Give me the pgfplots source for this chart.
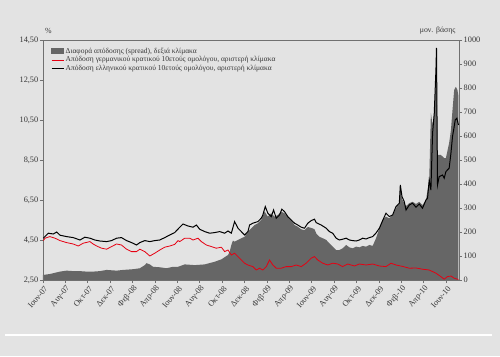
\documentclass[border=0pt]{standalone}
\usepackage{pgfplots}
\pgfplotsset{compat=1.18}
\usepackage{pgfplotstable}
\usepackage{fontspec}
\setmainfont{Liberation Serif}
\definecolor{bg}{RGB}{227,227,227}
\definecolor{spreadgray}{RGB}{102,102,102}
\definecolor{axgray}{RGB}{112,112,112}
\definecolor{gred}{RGB}{230,0,18}
\definecolor{txt}{RGB}{55,55,55}

\pgfplotstableread{
m bp
0.00 21
0.62 25
1.52 35
2.11 39
2.70 37
3.30 37
3.89 35
4.48 35
5.08 37
5.68 42
6.57 39
7.16 42
8.05 45
8.65 49
9.09 62
9.24 70
9.54 65
9.83 55
10.43 53
11.02 49
11.61 55
12.06 55
12.66 65
13.55 62
14.44 65
15.33 76
15.93 86
16.22 95
16.52 104
16.67 118
16.82 146
16.96 164
17.11 160
17.41 167
17.71 174
18.00 180
18.30 201
18.60 215
18.89 229
19.19 236
19.49 250
19.79 285
20.08 264
20.38 278
20.68 264
20.97 271
21.27 285
21.57 278
21.86 264
22.17 250
22.46 229
22.75 222
23.06 211
23.35 208
23.65 221
23.95 217
24.24 212
24.42 192
24.69 180
24.98 174
25.29 167
25.58 153
25.87 139
26.18 125
26.47 125
26.76 132
27.07 146
27.36 136
27.66 132
27.96 139
28.25 136
28.55 142
28.85 139
29.14 146
29.44 142
29.74 174
30.04 215
30.33 250
30.63 264
30.93 257
31.22 271
31.52 299
31.82 320
31.91 383
32.06 337
32.42 308
32.71 320
33.00 326
33.31 317
33.60 326
33.89 312
34.20 333
34.49 417
34.64 696
34.79 646
34.94 696
35.09 854
35.14 937
35.23 521
35.53 521
35.83 508
35.98 508
36.27 571
36.43 625
36.57 708
36.72 792
36.87 805
37.01 792
37.10 767
}\spread

\pgfplotstableread{
m y
0.03 4.47
0.18 4.59
0.62 4.67
1.07 4.59
1.52 4.47
2.11 4.37
2.70 4.30
3.15 4.20
3.59 4.34
4.19 4.42
4.48 4.30
4.79 4.20
5.23 4.09
5.68 4.04
6.12 4.17
6.57 4.30
7.01 4.25
7.46 4.04
7.91 3.92
8.35 3.92
8.65 4.04
9.09 3.92
9.54 3.70
9.98 3.84
10.43 4.00
10.87 4.14
11.32 4.20
11.76 4.28
12.06 4.47
12.21 4.42
12.66 4.59
13.10 4.59
13.40 4.50
13.84 4.59
14.14 4.42
14.59 4.25
15.04 4.17
15.48 4.09
15.93 4.14
16.22 3.92
16.52 4.00
16.82 3.75
17.11 3.84
17.41 3.67
17.71 3.50
18.00 3.34
18.30 3.25
18.74 3.17
19.05 3.00
19.34 3.09
19.63 3.00
19.94 3.17
20.23 3.50
20.53 3.25
20.83 3.09
21.27 3.09
21.72 3.17
22.17 3.17
22.61 3.25
23.06 3.17
23.50 3.34
23.95 3.59
24.24 3.67
24.54 3.50
24.98 3.34
25.43 3.25
25.87 3.34
26.32 3.30
26.76 3.17
27.21 3.30
27.81 3.20
28.25 3.30
28.85 3.25
29.44 3.30
30.04 3.20
30.63 3.17
31.08 3.34
31.52 3.25
32.11 3.18
32.71 3.09
33.31 3.10
33.89 3.04
34.49 3.00
35.09 2.84
35.53 2.67
35.83 2.54
36.12 2.67
36.43 2.70
36.72 2.59
37.01 2.54
37.10 2.53
}\german

\pgfplotstableread{
m y
0.03 4.59
0.47 4.84
0.92 4.80
1.22 4.90
1.52 4.74
2.11 4.67
2.70 4.62
3.30 4.50
3.74 4.64
4.19 4.59
4.63 4.50
5.08 4.45
5.68 4.42
6.12 4.47
6.57 4.59
7.01 4.62
7.46 4.47
7.91 4.37
8.35 4.25
8.65 4.37
9.09 4.47
9.54 4.42
9.98 4.47
10.43 4.50
10.87 4.62
11.32 4.75
11.76 4.87
12.06 5.05
12.50 5.30
12.95 5.20
13.40 5.14
13.70 5.25
13.99 5.04
14.44 4.92
14.88 4.84
15.33 4.87
15.78 4.92
16.22 4.84
16.52 4.95
16.82 4.84
17.11 5.42
17.41 5.09
17.71 4.92
18.00 4.75
18.30 4.92
18.45 5.25
18.74 5.34
19.19 5.42
19.49 5.59
19.63 5.75
19.85 6.17
20.08 5.84
20.38 5.67
20.59 6.00
20.83 5.59
21.12 5.75
21.33 6.04
21.57 5.92
21.86 5.67
22.17 5.50
22.46 5.34
22.75 5.25
23.06 5.14
23.35 5.09
23.65 5.34
23.95 5.47
24.24 5.54
24.39 5.37
24.84 5.25
25.29 5.09
25.58 4.92
25.87 4.84
26.18 4.59
26.47 4.50
26.76 4.54
27.07 4.59
27.36 4.50
27.66 4.47
27.96 4.45
28.25 4.50
28.55 4.59
28.85 4.55
29.14 4.62
29.44 4.67
29.74 4.85
30.04 5.09
30.33 5.47
30.63 5.84
30.93 5.67
31.22 5.75
31.52 6.17
31.82 6.34
31.91 7.25
32.06 6.67
32.26 6.42
32.42 6.00
32.71 6.25
33.00 6.34
33.31 6.14
33.60 6.30
33.89 6.09
34.20 6.50
34.34 6.59
34.49 7.50
34.64 7.00
34.79 9.84
34.94 10.84
35.09 13.00
35.14 14.10
35.23 7.25
35.38 7.67
35.68 7.75
35.83 7.59
35.98 7.92
36.27 8.09
36.43 8.84
36.57 9.67
36.72 10.17
36.81 10.50
36.96 10.59
37.10 10.25
}\greek

\begin{document}
\begin{tikzpicture}
\fill[bg] (-43pt,-76pt) rectangle (457pt,280pt);
\useasboundingbox (-43pt,-76pt) rectangle (457pt,280pt);
\draw[white, line width=1.5pt] (-38pt,-55pt) -- (449pt,-55pt);

% right axis: spread area
\begin{axis}[
  at={(0pt,0pt)}, anchor=south west,
  scale only axis, width=416pt, height=240pt,
  xmin=0, xmax=37.15, ymin=0, ymax=1000,
  hide x axis,
  axis y line*=right,
  axis line style={axgray, line width=0.9pt},
  y axis line style={-},
  ytick={0,100,...,1000},
  yticklabels={0,100,200,300,400,500,600,700,800,900,1000},
  tick align=outside, major tick length=3pt,
  tick style={axgray, line width=0.6pt},
  yticklabel style={font=\fontsize{8.3}{10}\selectfont, text=txt, inner sep=1.5pt},
  ylabel={μον. βάσης},
  every axis y label/.style={at={(axis description cs:1,1)}, anchor=east, yshift=9pt, font=\fontsize{7.8}{9}\selectfont, text=txt},
]
\addplot[fill=spreadgray, draw=none] table[x=m, y=bp] {\spread} \closedcycle;
\end{axis}

% left axis: yields
\begin{axis}[
  at={(0pt,0pt)}, anchor=south west,
  scale only axis, width=416pt, height=240pt,
  xmin=0, xmax=37.15, ymin=2.5, ymax=14.5,
  axis line style={axgray, line width=0.9pt},
  ytick={2.5,4.5,6.5,8.5,10.5,12.5,14.5},
  yticklabels={{2,50},{4,50},{6,50},{8,50},{10,50},{12,50},{14,50}},
  ytick pos=left, xtick pos=bottom,
  xtick={0,2,...,36},
  xticklabels={Ιουν-07,Αυγ-07,Οκτ-07,Δεκ-07,Φεβ-08,Απρ-08,Ιουν-08,Αυγ-08,Οκτ-08,Δεκ-08,Φεβ-09,Απρ-09,Ιουν-09,Αυγ-09,Οκτ-09,Δεκ-09,Φεβ-10,Απρ-10,Ιουν-10},
  tick align=outside, major tick length=3pt,
  tick style={axgray, line width=0.6pt},
  yticklabel style={font=\fontsize{8.3}{10}\selectfont, text=txt, inner sep=1.5pt},
  xticklabel style={font=\fontsize{8.3}{10}\selectfont, text=txt, rotate=50, anchor=east, inner sep=1pt, yshift=-5pt},
  ylabel={\%},
  every axis y label/.style={at={(axis description cs:0.0127,1)}, anchor=center, yshift=9pt, font=\fontsize{7.8}{9}\selectfont, text=txt},
  legend cell align=left,
  legend image code/.code={\draw[#1] (0pt,0pt) -- (12pt,0pt);},
  legend style={at={(axis description cs:0.019,0.975)}, anchor=north west, draw=none, fill=none,
    font=\fontsize{7.5}{9}\selectfont, text=txt, row sep=-1.2pt, inner sep=0pt,
    nodes={inner sep=1.6pt}},
]
\addlegendimage{legend image code/.code={\fill[spreadgray] (0pt,-2.5pt) rectangle (12pt,2.5pt);}}
\addlegendentry{Διαφορά απόδοσης (spread), δεξιά κλίμακα}
\addplot[gred, line width=0.8pt] table[x=m, y=y] {\german};
\addlegendentry{Απόδοση γερμανικού κρατικού 10ετούς ομολόγου, αριστερή κλίμακα}
\addplot[black, line width=1pt] table[x=m, y=y] {\greek};
\addlegendentry{Απόδοση ελληνικού κρατικού 10ετούς ομολόγου, αριστερή κλίμακα}
\end{axis}
\end{tikzpicture}
\end{document}
